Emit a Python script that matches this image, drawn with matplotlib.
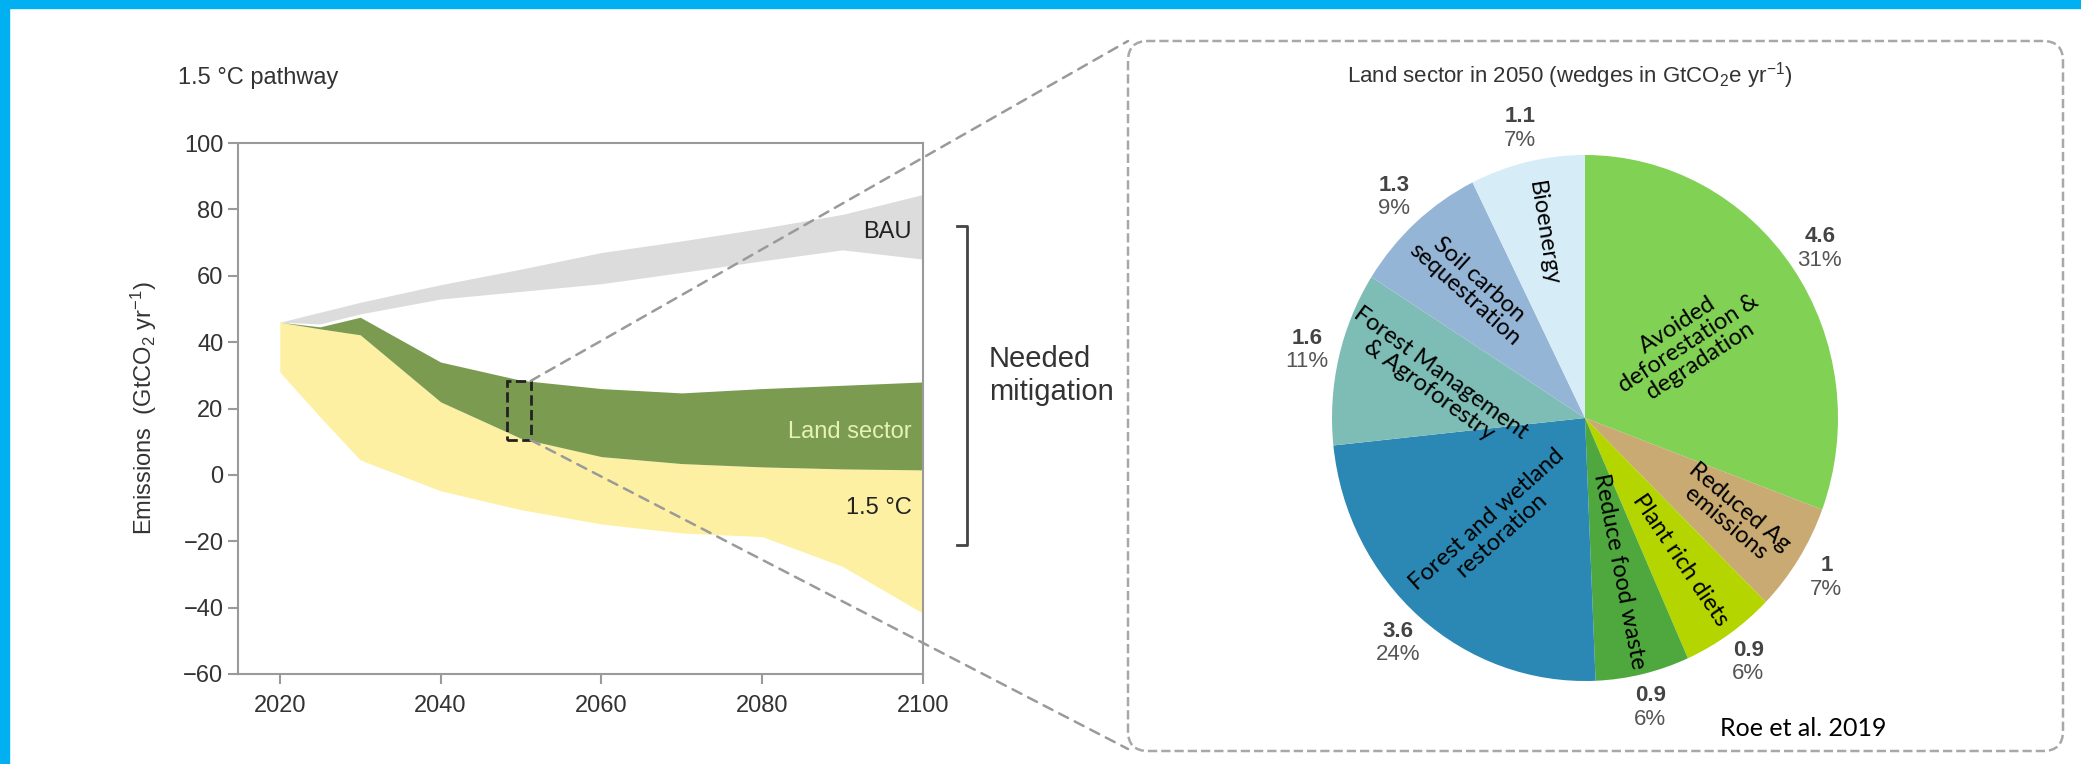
import numpy as np
import matplotlib
matplotlib.use("Agg")
import matplotlib.pyplot as plt
from matplotlib.patches import Rectangle, FancyBboxPatch, ConnectionPatch

plt.rcParams['font.family'] = ['Liberation Sans', 'DejaVu Sans']
plt.rcParams['mathtext.fontset'] = 'custom'
plt.rcParams['mathtext.rm'] = 'Liberation Sans'
plt.rcParams['mathtext.it'] = 'Liberation Sans:italic'

# ---- left panel: emission pathways (GtCO2/yr) ----
years = [2020, 2025, 2030, 2040, 2050, 2060, 2070, 2080, 2090, 2100]
bau_high = [46, 49, 52, 57.3, 62, 67, 70.5, 74.3, 78.5, 84.5]
bau_low = [46, 45.5, 48.5, 53, 55.3, 57.6, 61, 64.5, 67.8, 65]
land_high = [46, 44.6, 47.5, 34, 28.5, 26, 24.7, 26, 27, 28]
path_high = [46, 44, 42.2, 22, 11, 5.5, 3.4, 2.4, 1.8, 1.5]
path_low = [31, 17.5, 4.5, -4.8, -10.5, -14.8, -17.5, -18.6, -27.6, -41.7]

# ---- right panel: land sector wedges in 2050 ----
wedge_names = ['Avoided\ndeforestation &\ndegradation', 'Reduced Ag\nemissions',
               'Plant rich diets', 'Reduce food waste',
               'Forest and wetland\nrestoration', 'Forest Management\n& Agroforestry',
               'Soil carbon\nsequestration', 'Bioenergy']
wedge_values = [4.6, 1.0, 0.9, 0.9, 3.6, 1.6, 1.3, 1.1]
wedge_value_labels = ['4.6', '1', '0.9', '0.9', '3.6', '1.6', '1.3', '1.1']
wedge_pct_labels = ['31%', '7%', '6%', '6%', '24%', '11%', '9%', '7%']
wedge_colors = ['#80d154', '#c8aa72', '#b4d500', '#4fa83d',
                '#2b87b3', '#7dbdb5', '#95b5d6', '#d6ecf6']

# label layout inside the wedges (radial position, rotation)
name_radius = [0.50, 0.69, 0.66, 0.60, 0.55, 0.61, 0.67, 0.72]
name_rotation = [33, -40, -56, -79, 42, -36, -42, -81]

W, H = 2081, 764
fig = plt.figure(figsize=(W / 100, H / 100), dpi=100)

# cyan slide frame
fig.add_artist(Rectangle((0, 1 - 8 / H), 1, 8 / H, transform=fig.transFigure,
                         color='#00b0f0', zorder=0))
fig.add_artist(Rectangle((0, 0), 9 / W, 1, transform=fig.transFigure,
                         color='#00b0f0', zorder=0))

ax = fig.add_axes([238 / W, 90 / H, 685 / W, 531 / H])
ax.fill_between(years, bau_low, bau_high, color='#dcdcdc', lw=0)
ax.fill_between(years, path_low, path_high, color='#fdf0a2', lw=0)
ax.fill_between(years, path_high, land_high, color='#7b9c50', lw=0)

ax.set_xlim(2014.8, 2100)
ax.set_ylim(-60, 100)
ax.set_xticks([2020, 2040, 2060, 2080, 2100])
ax.set_yticks(range(-60, 101, 20))
ax.tick_params(labelsize=17, colors='#9a9a9a', labelcolor='#333333',
               length=7, width=1.5, direction='out')
ax.tick_params(axis='x', pad=8)
for s in ax.spines.values():
    s.set_color('#9a9a9a')
    s.set_linewidth(1.5)
ax.set_ylabel('Emissions  (GtCO$_2$ yr$^{-1}$)', fontsize=17, color='#333333')
ax.yaxis.set_label_coords(-0.115, 0.5)

ax.text(2098.6, 73.3, 'BAU', fontsize=17, color='#222222', ha='right', va='center')
ax.text(2098.6, 13, 'Land sector', fontsize=17, color='#e6f2b5', ha='right', va='center')
ax.text(2098.6, -10, '1.5 °C', fontsize=17, color='#222222', ha='right', va='center')

# dashed box marking 2050
ax.add_patch(Rectangle((2048.3, 10.5), 2.9, 17.8, fill=False, ec='#222222',
                       ls='--', lw=2))

# bracket "Needed mitigation"
ax.plot([2104.2, 2105.5, 2105.5, 2104.2], [75, 75, -21, -21], color='#444444',
        lw=2, clip_on=False)
ax.text(2108.2, 30, 'Needed\nmitigation', fontsize=21, color='#333333',
        ha='left', va='center', linespacing=1.2)

fig.text(178 / W, 1 - 78 / H, '1.5 °C pathway', fontsize=17, color='#333333',
         ha='left', va='center')

# dashed frame around the pie
frame = FancyBboxPatch((11.28, 0.13), 9.35, 7.10,
                       boxstyle='round,pad=0,rounding_size=0.2',
                       transform=fig.dpi_scale_trans, fill=False,
                       ec='#a8a8a8', ls='--', lw=1.8)
fig.add_artist(frame)

for ya, yb in [(28.3, 1 - 41 / H), (10.5, 1 - 749 / H)]:
    con = ConnectionPatch(xyA=(2051.2, ya), coordsA=ax.transData,
                          xyB=(1128 / W, yb), coordsB='figure fraction',
                          color='#9a9a9a', ls=(0, (4, 3)), lw=1.8)
    fig.add_artist(con)

# pie
rx, ry = 253, 263
cx, cy = 1585, 764 - 418
pax = fig.add_axes([(cx - 1.2 * rx) / W, (cy - 1.2 * ry) / H,
                    2.4 * rx / W, 2.4 * ry / H])
wedges, _ = pax.pie(wedge_values, colors=wedge_colors, startangle=90,
                    counterclock=False, radius=1.0)
pax.set_xlim(-1.2, 1.2)
pax.set_ylim(-1.2, 1.2)
pax.set_aspect('auto')
pax.axis('off')

for i, w in enumerate(wedges):
    mid = np.deg2rad((w.theta1 + w.theta2) / 2)
    r = name_radius[i]
    pax.text(r * np.cos(mid), r * np.sin(mid), wedge_names[i], fontsize=17,
             family=['Lato', 'DejaVu Sans'], ha='center', va='center',
             rotation=name_rotation[i], rotation_mode='anchor',
             linespacing=1.0, color='black')
    ro = 1.13
    px, py = ro * np.cos(mid), ro * np.sin(mid)
    pax.annotate(wedge_value_labels[i], (px, py), xytext=(0, 8.5),
                 textcoords='offset points', ha='center', va='center',
                 fontsize=16, fontweight='bold', color='#444444',
                 annotation_clip=False)
    pax.annotate(wedge_pct_labels[i], (px, py), xytext=(0, -8.5),
                 textcoords='offset points', ha='center', va='center',
                 fontsize=16, color='#555555', annotation_clip=False)

fig.text(1570 / W, 1 - 76 / H,
         'Land sector in 2050 (wedges in GtCO$_2$e yr$^{-1}$)',
         fontsize=16, color='#333333', ha='center', va='center')
fig.text(1720 / W, 1 - 729 / H, 'Roe et al. 2019', fontsize=18,
         family=['Lato', 'DejaVu Sans'], color='black', ha='left', va='center')

fig.savefig('out.png', dpi=100, facecolor='white')
